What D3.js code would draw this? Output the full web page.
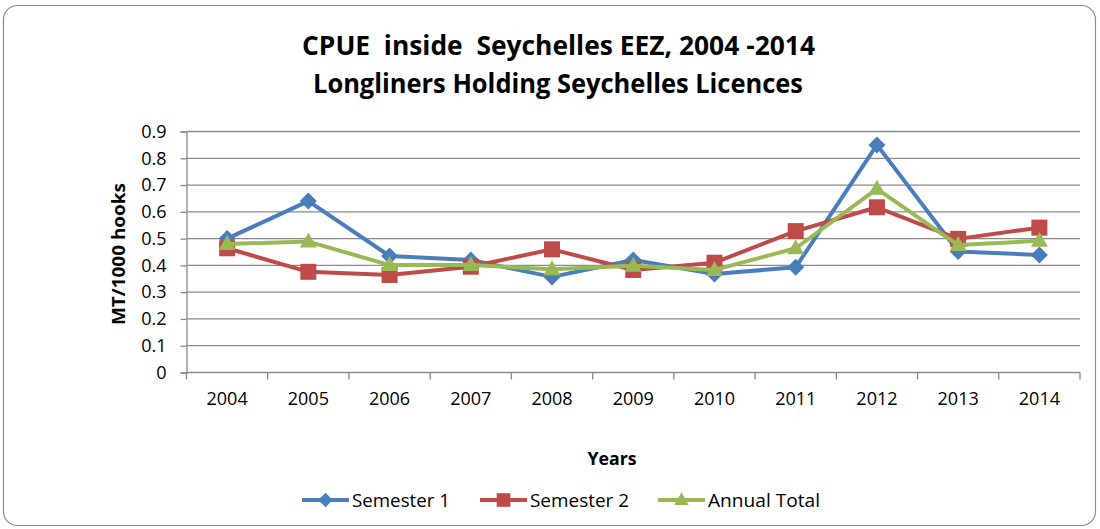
<!DOCTYPE html>
<html><head><meta charset="utf-8">
<script src="https://cdn.jsdelivr.net/npm/d3@7"></script>
<style>body{margin:0;background:#fff}svg{display:block}</style>
</head><body>
<script>
const years = ["2004","2005","2006","2007","2008","2009","2010","2011","2012","2013","2014"];
const semester1 = [0.50,0.64,0.435,0.42,0.357,0.42,0.368,0.393,0.85,0.452,0.439];
const semester2 = [0.464,0.376,0.364,0.395,0.46,0.383,0.41,0.528,0.617,0.499,0.541];
const annualTotal = [0.48,0.489,0.401,0.401,0.386,0.399,0.383,0.464,0.686,0.476,0.492];
const yTicks = [0,0.1,0.2,0.3,0.4,0.5,0.6,0.7,0.8,0.9];
const seriesNames = ["Semester 1","Semester 2","Annual Total"];

const W=1100,H=529;
const font="'Open Sans', sans-serif";
const svg=d3.select("body").append("svg").attr("width",W).attr("height",H);
svg.append("rect").attr("x",3.5).attr("y",5.5).attr("width",1092).attr("height",520).attr("rx",14)
  .attr("fill","#fff").attr("stroke","#8c8c8c").attr("stroke-width",1.2);

const L=186.5,R=1080,T=131.5,B=372.5;
const x=d3.scaleBand().domain(years).range([L,R]);
const y=d3.scaleLinear().domain([0,0.9]).range([B,T]);

svg.append("g").selectAll("line").data(yTicks.slice(1)).join("line")
  .attr("x1",L).attr("x2",R).attr("y1",d=>y(d)).attr("y2",d=>y(d))
  .attr("stroke","#8a8a8a").attr("stroke-width",1.3);

const yAxis=svg.append("g").attr("transform",`translate(${L},0)`)
  .call(d3.axisLeft(y).tickValues(yTicks).tickFormat(d=>d===0?"0":d3.format(".1f")(d)).tickSize(6).tickPadding(14));
const xAxis=svg.append("g").attr("transform",`translate(0,${B})`)
  .call(d3.axisBottom(x).tickSize(0).tickPadding(20));
svg.append("g").selectAll("line").data(d3.range(years.length+1)).join("line")
  .attr("x1",i=>L+i*x.step()).attr("x2",i=>L+i*x.step()).attr("y1",B).attr("y2",B+7)
  .attr("stroke","#8a8a8a").attr("stroke-width",1.3);
[yAxis,xAxis].forEach(a=>{
  a.selectAll("path").attr("stroke","#8a8a8a").attr("stroke-width",1.3);
  a.selectAll(".tick line").attr("stroke","#8a8a8a").attr("stroke-width",1.3);
  a.selectAll("text").attr("font-family",font).attr("font-size",18).attr("fill","#000");
});
xAxis.select("path").attr("d",`M${L},0H${R}`);

const colors=["#4A7EBB","#BE4B48","#98B954"];
const data=[semester1,semester2,annualTotal];
const markerPaths=[
  "M0,-8.5L8.5,0L0,8.5L-8.5,0Z",
  "M-8,-8H8V8H-8Z",
  "M0,-9L8.5,6L-8.5,6Z"
];
const line=d3.line().x((d,i)=>x(years[i])+x.bandwidth()/2).y(d=>y(d));
data.forEach((s,k)=>{
  const g=svg.append("g");
  g.append("path").datum(s).attr("d",line).attr("fill","none").attr("stroke",colors[k]).attr("stroke-width",4).attr("stroke-linejoin","round");
  g.selectAll("path.m").data(s).join("path").attr("class","m")
    .attr("transform",(d,i)=>`translate(${x(years[i])+x.bandwidth()/2},${y(d)})`)
    .attr("d",markerPaths[k]).attr("fill",colors[k]);
});

function fit(sel,w){sel.attr("textLength",w).attr("lengthAdjust","spacingAndGlyphs");}
const t1=svg.append("text").attr("x",558.5).attr("y",55).attr("text-anchor","middle").attr("font-family",font)
  .attr("font-weight","bold").attr("font-size",26).style("white-space","pre").text("CPUE  inside  Seychelles EEZ, 2004 -2014");
fit(t1,513);
const t2=svg.append("text").attr("x",558).attr("y",93).attr("text-anchor","middle").attr("font-family",font)
  .attr("font-weight","bold").attr("font-size",26).text("Longliners Holding Seychelles Licences");
fit(t2,490);
const yl=svg.append("text").attr("transform","translate(125,254) rotate(-90)").attr("text-anchor","middle")
  .attr("font-family",font).attr("font-weight","bold").attr("font-size",17).text("MT/1000 hooks");
fit(yl,142);
const xl=svg.append("text").attr("x",612).attr("y",465).attr("text-anchor","middle")
  .attr("font-family",font).attr("font-weight","bold").attr("font-size",18).text("Years");
fit(xl,49);

const legX=[302,480,658];
const legW=[98,99,112];
seriesNames.forEach((n,k)=>{
  const g=svg.append("g");
  g.append("line").attr("x1",legX[k]).attr("x2",legX[k]+47).attr("y1",500).attr("y2",500).attr("stroke",colors[k]).attr("stroke-width",4);
  g.append("path").attr("d",markerPaths[k]).attr("fill",colors[k]).attr("transform",`translate(${legX[k]+23.5},500) scale(0.85)`);
  const t=g.append("text").attr("x",legX[k]+50).attr("y",507).attr("font-family",font).attr("font-size",19).text(n);
  fit(t,legW[k]);
});
</script>
</body></html>
